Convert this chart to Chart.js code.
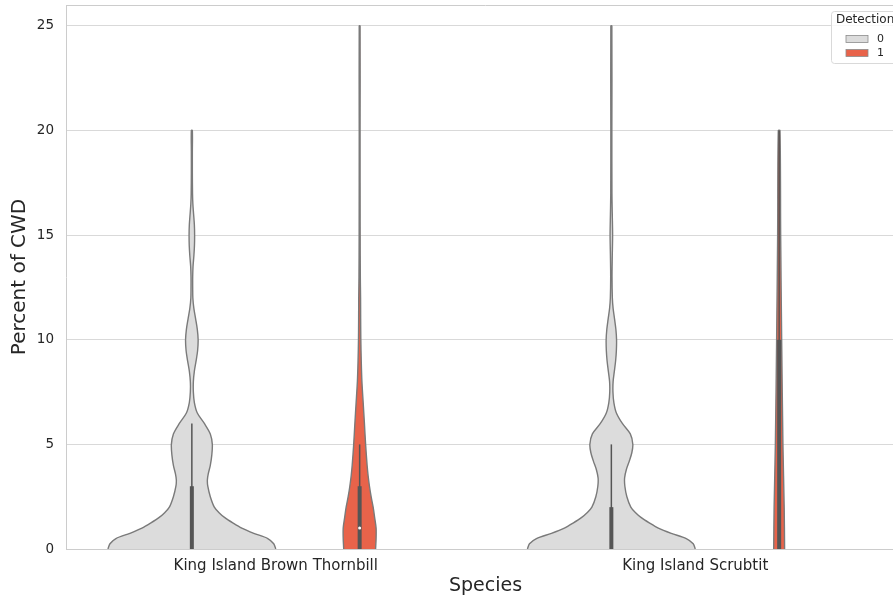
<!DOCTYPE html>
<html>
<head>
<meta charset="utf-8">
<script src="https://cdn.jsdelivr.net/npm/chart.js@4.4.1/dist/chart.umd.min.js"></script>
<style>
  html, body { margin: 0; padding: 0; background: #fff; overflow: hidden; }
  #caixa { width: 893px; height: 598px; overflow: hidden; }
  #grafViolino { display: block; }
</style>
</head>
<body>
<div id="caixa"><canvas id="grafViolino" width="912" height="598"></canvas></div>
<script>
// categorias do eixo X e grupos (hue)
const especies = ["King Island Brown Thornbill", "King Island Scrubtit"]
const deteccao = ["0", "1"]
const tituloLegenda = "Detection"
const ticksY = [0, 5, 10, 15, 20, 25]

// densidades (1 = violino mais largo)
const niveisThornbill0 = [0, 0.25, 0.5, 0.75, 1, 1.25, 1.5, 1.75, 2, 2.5, 3, 3.3, 3.6, 4, 4.5, 5, 5.5, 6, 6.5, 7, 7.5, 8, 8.5, 9, 9.5, 10, 10.5, 11, 11.5, 12, 12.5, 13, 13.5, 14, 14.5, 15, 15.5, 16, 16.5, 17, 18, 19, 20]
const densThornbill0 = [1.0, 0.976, 0.905, 0.738, 0.595, 0.488, 0.393, 0.321, 0.268, 0.22, 0.19, 0.185, 0.196, 0.22, 0.238, 0.244, 0.22, 0.149, 0.065, 0.03, 0.018, 0.018, 0.03, 0.051, 0.069, 0.075, 0.065, 0.045, 0.024, 0.012, 0.01, 0.01, 0.014, 0.024, 0.031, 0.033, 0.03, 0.021, 0.012, 0.008, 0.006, 0.006, 0.006]

const niveisThornbill1 = [0, 0.5, 1, 1.5, 2, 2.5, 3, 3.5, 4, 5, 6, 7, 8, 9, 10, 11, 12, 13, 15, 20, 25]
const densThornbill1 = [0.19, 0.196, 0.196, 0.179, 0.161, 0.137, 0.117, 0.101, 0.089, 0.071, 0.057, 0.042, 0.027, 0.019, 0.014, 0.012, 0.011, 0.008, 0.006, 0.005, 0.005]

const niveisScrubtit0 = [0, 0.25, 0.5, 0.75, 1, 1.25, 1.5, 1.75, 2, 2.5, 3, 3.4, 3.8, 4.2, 4.6, 5, 5.5, 6, 6.5, 7, 7.5, 8, 8.5, 9, 9.5, 10, 10.5, 11, 11.5, 12, 13, 14, 15, 16, 17, 20, 25]
const densScrubtit0 = [1, 0.976, 0.893, 0.714, 0.56, 0.452, 0.357, 0.286, 0.232, 0.185, 0.161, 0.158, 0.179, 0.214, 0.244, 0.256, 0.226, 0.131, 0.06, 0.03, 0.019, 0.021, 0.036, 0.051, 0.06, 0.062, 0.054, 0.038, 0.021, 0.012, 0.008, 0.011, 0.015, 0.011, 0.007, 0.006, 0.006]

const niveisScrubtit1 = [0, 2, 5, 10, 15, 20]
const densScrubtit1 = [0.065, 0.06, 0.045, 0.03, 0.018, 0.01]

// caixa interna: quartis, mediana e bigode (ordem: Thornbill 0, Thornbill 1, Scrubtit 0, Scrubtit 1)
const quartil1 = [0, 0, 0, 0]
const quartil3 = [3, 3, 2, 10]
const mediana = [0, 1, 0, 0]
const bigodeMax = [6, 5, 5, 20]

const violinos = [
    { cat: 0, hue: 0, niveis: niveisThornbill0, dens: densThornbill0 },
    { cat: 0, hue: 1, niveis: niveisThornbill1, dens: densThornbill1 },
    { cat: 1, hue: 0, niveis: niveisScrubtit0, dens: densScrubtit0 },
    { cat: 1, hue: 1, niveis: niveisScrubtit1, dens: densScrubtit1 }
]

const coresHue = ["#dcdcdc", "#e8634a"]
const corBorda = "#7a7a7a"
const corCaixa = "#555555"
const corTexto = "#262626"
const larguraMax = 0.2 // meia largura maxima em unidades de categoria
const deslocHue = 0.2

let datasets = []
violinos.forEach((v, i) => {
    let centro = v.cat + (v.hue === 0 ? -deslocHue : deslocHue)
    let pontos = []
    for (let k = 0; k < v.niveis.length; k++) {
        pontos.push({ x: centro - v.dens[k] * larguraMax, y: v.niveis[k] })
    }
    for (let k = v.niveis.length - 1; k >= 0; k--) {
        pontos.push({ x: centro + v.dens[k] * larguraMax, y: v.niveis[k] })
    }
    datasets.push({
        data: pontos,
        showLine: true,
        fill: "shape",
        tension: 0.3,
        backgroundColor: coresHue[v.hue],
        borderColor: corBorda,
        borderWidth: 1.4,
        pointRadius: 0,
        order: 3
    })
    // bigode
    datasets.push({
        data: [{ x: centro, y: quartil1[i] }, { x: centro, y: bigodeMax[i] }],
        showLine: true,
        borderColor: corCaixa,
        borderWidth: 1.5,
        pointRadius: 0,
        order: 2
    })
    // caixa
    datasets.push({
        data: [{ x: centro, y: quartil1[i] }, { x: centro, y: quartil3[i] }],
        showLine: true,
        borderColor: corCaixa,
        borderWidth: 4,
        borderCapStyle: "butt",
        pointRadius: 0,
        order: 1
    })
    // mediana (escondida pelo eixo quando vale 0)
    if (mediana[i] > quartil1[i]) {
        datasets.push({
            data: [{ x: centro, y: mediana[i] }],
            pointRadius: 1.5,
            pointBackgroundColor: "#ffffff",
            pointBorderWidth: 0,
            order: 0
        })
    }
})

// linha de cima do quadro e legenda
const molduraLegenda = {
    id: "molduraLegenda",
    afterDraw(chart) {
        const ctx = chart.ctx
        const area = chart.chartArea
        ctx.save()
        ctx.strokeStyle = "#cccccc"
        ctx.lineWidth = 1
        ctx.beginPath()
        ctx.moveTo(area.left, area.top + 0.5)
        ctx.lineTo(area.right, area.top + 0.5)
        ctx.stroke()

        // legenda
        ctx.fillStyle = "rgba(255,255,255,0.8)"
        ctx.strokeStyle = "#d9d9d9"
        ctx.beginPath()
        ctx.roundRect(831.5, 11.5, 80, 52, 3)
        ctx.fill()
        ctx.stroke()
        ctx.fillStyle = corTexto
        ctx.textBaseline = "middle"
        ctx.font = "12px 'DejaVu Sans'"
        ctx.fillText(tituloLegenda, 836, 20)
        ctx.font = "11px 'DejaVu Sans'"
        deteccao.forEach((d, j) => {
            let y = 35.5 + j * 14
            ctx.fillStyle = coresHue[j]
            ctx.fillRect(846, y, 22, 7)
            ctx.strokeStyle = "#8c8c8c"
            ctx.lineWidth = 0.8
            ctx.strokeRect(846, y, 22, 7)
            ctx.fillStyle = corTexto
            ctx.fillText(d, 877, y + 4)
        })
        ctx.restore()
    }
}

const zeraPadding = (s) => {
    s.paddingTop = 0
    s.paddingBottom = 0
    s.paddingLeft = 0
    s.paddingRight = 0
}

new Chart(document.getElementById("grafViolino"), {
    type: "scatter",
    data: { datasets: datasets },
    plugins: [molduraLegenda],
    options: {
        responsive: false,
        animation: false,
        layout: { autoPadding: false, padding: { top: 5, right: 7, bottom: 0, left: 0 } },
        plugins: {
            legend: { display: false },
            tooltip: { enabled: false }
        },
        scales: {
            x: {
                type: "linear",
                min: -0.5,
                max: 1.5,
                afterBuildTicks: (s) => { s.ticks = especies.map((_, i) => ({ value: i })) },
                afterFit: (s) => { s.height = 49; zeraPadding(s) },
                ticks: {
                    callback: (v) => especies[v],
                    font: { family: "'DejaVu Sans'", size: 15 },
                    color: corTexto,
                    padding: 8,
                    maxRotation: 0,
                    autoSkip: false
                },
                grid: { display: false, drawTicks: false },
                border: { display: true, color: "#cccccc" },
                title: { display: true, text: "Species", font: { family: "'DejaVu Sans'", size: 19 }, color: corTexto, padding: { top: 0, bottom: 1 } }
            },
            y: {
                min: 0,
                max: 26,
                afterBuildTicks: (s) => { s.ticks = ticksY.map(v => ({ value: v })) },
                afterFit: (s) => { s.width = 66; zeraPadding(s) },
                ticks: { font: { family: "'DejaVu Sans'", size: 13.5 }, color: corTexto, padding: 12 },
                grid: { color: "#d9d9d9", drawTicks: false },
                border: { display: true, color: "#cccccc" },
                title: { display: true, text: "Percent of CWD", font: { family: "'DejaVu Sans'", size: 20 }, color: corTexto, padding: { top: 8 } }
            }
        }
    }
})
</script>
</body>
</html>
